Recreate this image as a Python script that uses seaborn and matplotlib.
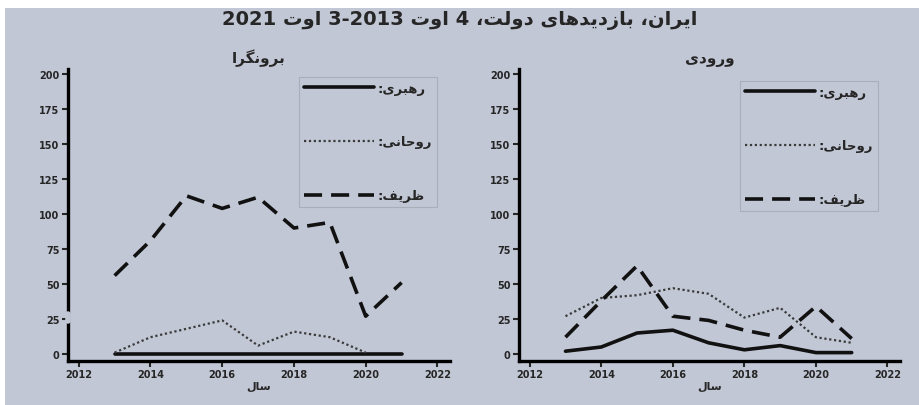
import re
import pandas as pd
import matplotlib
matplotlib.use('Agg')
import matplotlib.pyplot as plt
from matplotlib.patches import Rectangle
import seaborn as sns

# --- data ---
years = [2013, 2014, 2015, 2016, 2017, 2018, 2019, 2020, 2021]
leaders = ['رهبری', 'روحانی', 'ظریف']

out_khamenei = [0, 0, 0, 0, 0, 0, 0, 0, 0]
out_rouhani = [1, 12, 18, 24, 6, 16, 12, 1, None]
out_zarif = [56, 81, 113, 104, 112, 90, 94, 27, 51]

in_khamenei = [2, 5, 15, 17, 8, 3, 6, 1, 1]
in_rouhani = [27, 40, 42, 47, 43, 26, 33, 12, 8]
in_zarif = [12, 38, 63, 27, 24, 17, 12, 34, 11]

x_ticks = [2012, 2014, 2016, 2018, 2020, 2022]
y_ticks = [0, 25, 50, 75, 100, 125, 150, 175, 200]

TITLE = 'ایران، بازدیدهای دولت، 4 اوت 2013-3 اوت 2021'
LEFT_TITLE = 'برونگرا'
RIGHT_TITLE = 'ورودی'
XLABEL = 'سال'

BG = '#c2c7d5'

# --- minimal Persian shaping (matplotlib has no RTL / joining support) ---
FORMS = {
    'ا': ('\uFE8D', '\uFE8E', None, None),
    'ب': ('\uFE8F', '\uFE90', '\uFE91', '\uFE92'),
    'ت': ('\uFE95', '\uFE96', '\uFE97', '\uFE98'),
    'ح': ('\uFEA1', '\uFEA2', '\uFEA3', '\uFEA4'),
    'د': ('\uFEA9', '\uFEAA', None, None),
    'ر': ('\uFEAD', '\uFEAE', None, None),
    'ز': ('\uFEAF', '\uFEB0', None, None),
    'س': ('\uFEB1', '\uFEB2', '\uFEB3', '\uFEB4'),
    'ظ': ('\uFEC5', '\uFEC6', '\uFEC7', '\uFEC8'),
    'ف': ('\uFED1', '\uFED2', '\uFED3', '\uFED4'),
    'ل': ('\uFEDD', '\uFEDE', '\uFEDF', '\uFEE0'),
    'ن': ('\uFEE5', '\uFEE6', '\uFEE7', '\uFEE8'),
    'ه': ('\uFEE9', '\uFEEA', '\uFEEB', '\uFEEC'),
    'و': ('\uFEED', '\uFEEE', None, None),
    'ی': ('\uFBFC', '\uFBFD', '\uFBFE', '\uFBFF'),
    'گ': ('\uFB92', '\uFB93', '\uFB94', '\uFB95'),
}


def fa(text):
    """Shape Persian letters and put them in visual (left-to-right) order."""
    out = []
    for i, c in enumerate(text):
        if c not in FORMS:
            out.append(c)
            continue
        prev = text[i - 1] if i > 0 else None
        nxt = text[i + 1] if i + 1 < len(text) else None
        join_prev = prev in FORMS and FORMS[prev][2] is not None
        join_next = FORMS[c][2] is not None and nxt in FORMS
        iso, fin, ini, med = FORMS[c]
        if join_prev and join_next:
            out.append(med)
        elif join_prev:
            out.append(fin)
        elif join_next:
            out.append(ini)
        else:
            out.append(iso)
    tokens = re.findall(r'[0-9]+|[^0-9]+', ''.join(out))
    return ''.join(t if t.isdigit() else t[::-1] for t in reversed(tokens))


def long_frame(kh, ro, za):
    rows = []
    for name, vals in zip(leaders, [kh, ro, za]):
        for y, v in zip(years, vals):
            rows.append({'year': y, 'visits': v, 'leader': name})
    return pd.DataFrame(rows)


df_out = long_frame(out_khamenei, out_rouhani, out_zarif)
df_in = long_frame(in_khamenei, in_rouhani, in_zarif)

sns.set_style('ticks')
plt.rcParams['font.family'] = ['DejaVu Sans']
plt.rcParams['font.weight'] = 'bold'

fig = plt.figure(figsize=(9.2, 4.06), dpi=100)
fig.patch.set_facecolor('white')
fig.add_artist(Rectangle((5 / 920, 0), 1, 1 - 9 / 406, transform=fig.transFigure,
                         facecolor=BG, edgecolor='none', zorder=-10))

ax_l = fig.add_axes([68 / 920, 1 - 362 / 406, 382 / 920, 292 / 406])
ax_r = fig.add_axes([519 / 920, 1 - 362 / 406, 381 / 920, 292 / 406])

palette = {'رهبری': '#111111', 'روحانی': '#3a3a3a', 'ظریف': '#111111'}
dashes = {'رهبری': '', 'روحانی': (1, 1.2), 'ظریف': (5, 2.5)}
widths = {'رهبری': 2.6, 'روحانی': 1.6, 'ظریف': 2.6}

for ax, df, title, anchor in [(ax_l, df_out, LEFT_TITLE, (0.966, 0.973)),
                              (ax_r, df_in, RIGHT_TITLE, (0.942, 0.959))]:
    ax.set_facecolor('none')
    for name in leaders:
        sub = df[df['leader'] == name].dropna()
        sns.lineplot(data=sub, x='year', y='visits', ax=ax, color=palette[name],
                     linewidth=widths[name], label=fa(name + ':'))
        if dashes[name]:
            ax.lines[-1].set_dashes(dashes[name])
    ax.set_xlim(2011.7, 2022.35)
    ax.set_ylim(-5, 203.6)
    ax.set_xticks(x_ticks)
    ax.set_yticks(y_ticks)
    ax.tick_params(labelsize=7, width=1.5, length=4, pad=2)
    for lab in ax.get_xticklabels() + ax.get_yticklabels():
        lab.set_fontweight('bold')
    sns.despine(ax=ax)
    for sp in ['left', 'bottom']:
        ax.spines[sp].set_linewidth(2.4)
        ax.spines[sp].set_color('black')
    ax.set_title(fa(title), fontsize=11, fontweight='bold', pad=5)
    ax.set_xlabel(fa(XLABEL), fontsize=8, fontweight='bold', labelpad=1)
    ax.set_ylabel('')
    leg = ax.legend(loc='upper right', bbox_to_anchor=anchor, borderaxespad=0,
                    markerfirst=True, handlelength=5.3, handletextpad=0.3,
                    labelspacing=3.1, borderpad=0.35, fontsize=9.5,
                    frameon=True, fancybox=False)
    leg.get_frame().set_facecolor(BG)
    leg.get_frame().set_edgecolor('#a4a8b2')
    leg.get_frame().set_linewidth(0.8)
    for t in leg.get_texts():
        t.set_fontweight('bold')

# axis break on the outbound panel
ax_l.plot([0, 0], [0.137, 0.161], transform=ax_l.transAxes, color=BG,
          linewidth=4, clip_on=False, zorder=5)

fig.text(0.5, 1 - 21 / 406, fa(TITLE), ha='center', va='center',
         fontsize=14, fontweight='bold')

fig.savefig('out.png', dpi=100, facecolor=fig.get_facecolor())
